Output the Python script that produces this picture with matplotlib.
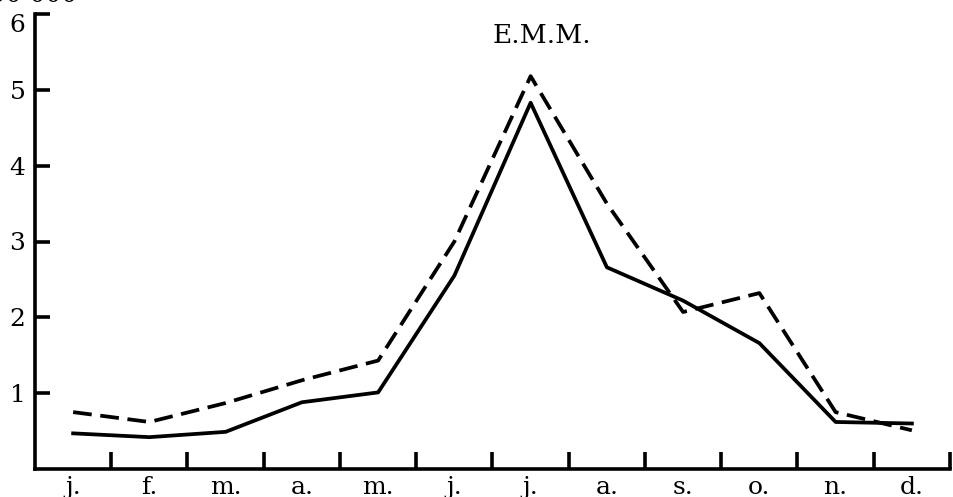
import matplotlib.pyplot as plt
import numpy as np

months = ['j.', 'f.', 'm.', 'a.', 'm.', 'j.', 'j.', 'a.', 's.', 'o.', 'n.', 'd.']
solid_vals = [0.47, 0.42, 0.49, 0.88, 1.01, 2.55, 4.83, 2.66, 2.22, 1.66, 0.62, 0.60]
dashed_vals = [0.75, 0.62, 0.87, 1.17, 1.43, 3.00, 5.18, 3.50, 2.07, 2.32, 0.75, 0.51]
yticks = [1, 2, 3, 4, 5, 6]

plt.rcParams['font.family'] = ['DejaVu Serif']

fig = plt.figure(figsize=(9.54, 4.97), dpi=100)
ax = fig.add_axes([35 / 954, 28 / 497, 915 / 954, 455 / 497])

x = np.arange(len(months)) + 0.5
ax.plot(x, solid_vals, color='black', lw=2.7, clip_on=False)
ax.plot(x, dashed_vals, color='black', lw=2.7, dashes=(5, 2.3), clip_on=False)

ax.set_xlim(0, 12)
ax.set_ylim(0, 6)

for s in ['top', 'right']:
    ax.spines[s].set_visible(False)
for s in ['left', 'bottom']:
    ax.spines[s].set_linewidth(2.6)
    ax.spines[s].set_capstyle('projecting')

ax.set_yticks(yticks)
ax.set_yticklabels([str(v) for v in yticks])
ax.tick_params(axis='y', direction='in', length=11, width=2.6, pad=7, labelsize=18)
# top label sits below its tick so it stays on the page
ax.get_yticklabels()[-1].set_va('top')

ax.set_xticks(np.arange(1, 13))
ax.set_xticklabels([])
ax.set_xticks(x, minor=True)
ax.set_xticklabels(months, minor=True)
ax.tick_params(axis='x', which='major', direction='in', length=12, width=2.6)
ax.tick_params(axis='x', which='minor', length=0, pad=5, labelsize=18)

ax.text(6.65, 5.71, 'E.M.M.', ha='center', va='center', fontsize=19)
fig.text(77 / 954, 1 - 2 / 497, '100 000', ha='right', va='baseline', fontsize=18)

plt.savefig('out.png', dpi=100)
